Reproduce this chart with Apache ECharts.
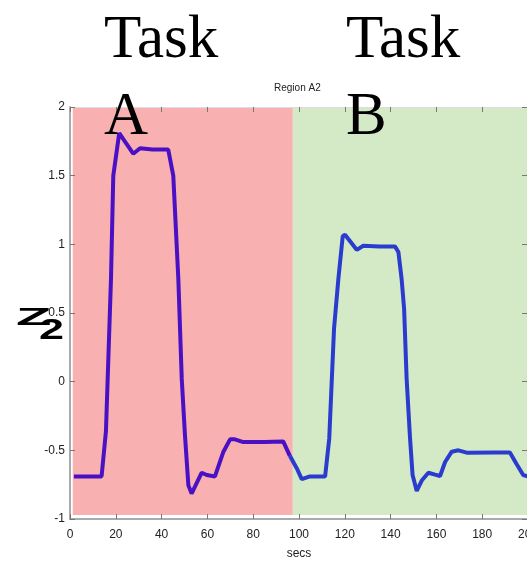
<!DOCTYPE html>
<html>
<head>
<meta charset="utf-8">
<script src="https://cdn.jsdelivr.net/npm/echarts@6/dist/echarts.min.js"></script>
<style>
  html, body { margin: 0; padding: 0; background: #fff; }
  #chart { width: 527px; height: 566px; }
</style>
</head>
<body>
<div id="chart"></div>
<script>
// time (secs) and Z2 response, task A part then task B part
let secsA = [1.7, 13.8, 15.7, 17.9, 18.9, 21.5, 23.5, 27.6, 30.6, 36, 42.9, 45.1, 47.3, 48.8, 50.2, 51.7, 53.1, 57.5, 59.7, 63.3, 67, 69.9, 72, 75.7, 85, 93.1, 96]
let z2A = [-0.69, -0.69, -0.36, 0.75, 1.5, 1.81, 1.76, 1.66, 1.70, 1.69, 1.69, 1.50, 0.75, 0.02, -0.39, -0.755, -0.815, -0.663, -0.68, -0.69, -0.51, -0.42, -0.42, -0.44, -0.44, -0.435, -0.54]
let secsB = [96, 99, 101.2, 104.8, 111.4, 113.2, 115.3, 117.2, 119.1, 120.1, 125.2, 128.1, 135, 141.9, 143.4, 144.8, 145.9, 147, 148.5, 149.6, 151.4, 153.6, 156.5, 159.4, 161.6, 163.8, 166.7, 169.6, 173.2, 185, 192.1, 195, 197.9, 200]
let z2B = [-0.54, -0.63, -0.71, -0.69, -0.69, -0.415, 0.386, 0.75, 1.06, 1.07, 0.96, 0.99, 0.985, 0.985, 0.944, 0.75, 0.53, 0.02, -0.415, -0.68, -0.796, -0.72, -0.663, -0.677, -0.687, -0.585, -0.51, -0.5, -0.517, -0.515, -0.515, -0.6, -0.68, -0.69]
// shaded task regions [x0, x1]
let taskA = [1.2, 97.3]
let taskB = [97.3, 200]
let shadeBottom = -0.97

let tickFont = '"Liberation Sans", Arial, sans-serif'
let bigFont = '61px "Liberation Serif", "Times New Roman", serif'

let chart = echarts.init(document.getElementById('chart'))
let options = {
    animation: false,
    title: {
        text: 'Region A2',
        left: 274, top: 83,
        padding: 0,
        textStyle: { fontFamily: tickFont, fontSize: 10, fontWeight: 'normal', color: '#222' }
    },
    grid: { left: 70, top: 107, width: 458, height: 412, outerBoundsMode: 'none' },
    xAxis: [
        {
            type: 'value', min: 0, max: 200, interval: 20, z: 5,
            name: 'secs', nameLocation: 'middle', nameGap: 29,
            nameTextStyle: { fontFamily: tickFont, fontSize: 12, color: '#222' },
            splitLine: { show: false },
            axisLine: { onZero: false, lineStyle: { color: '#aaa', width: 2 } },
            axisTick: { inside: true, length: 5, lineStyle: { color: '#777' } },
            axisLabel: { fontFamily: tickFont, fontSize: 12, color: '#222', margin: 10 }
        },
        {
            type: 'value', min: 0, max: 200, interval: 20, position: 'top', z: 5,
            splitLine: { show: false },
            axisLine: { onZero: false, lineStyle: { color: '#ddd' } },
            axisTick: { inside: true, length: 5, lineStyle: { color: '#777' } },
            axisLabel: { show: false }
        }
    ],
    yAxis: [
        {
            type: 'value', min: -1, max: 2, interval: 0.5, z: 5,
            splitLine: { show: false },
            axisLine: { show: true, onZero: false, lineStyle: { color: '#aaa', width: 2 } },
            axisTick: { show: true, inside: true, length: 5, lineStyle: { color: '#777' } },
            axisLabel: { fontFamily: tickFont, fontSize: 12, color: '#222', margin: 5 }
        },
        {
            type: 'value', min: -1, max: 2, interval: 0.5, position: 'right', z: 5,
            splitLine: { show: false },
            axisLine: { show: true, onZero: false, lineStyle: { color: '#ccc' } },
            axisTick: { show: true, inside: true, length: 6, lineStyle: { color: '#777' } },
            axisLabel: { show: false }
        }
    ],
    series: [
        {
            // background shading only
            type: 'line',
            data: [],
            z: 1,
            markArea: {
                silent: true,
                data: [
                    [{ coord: [taskA[0], shadeBottom], itemStyle: { color: '#f9b0b0' } }, { coord: [taskA[1], 2] }],
                    [{ coord: [taskB[0], shadeBottom], itemStyle: { color: '#d4eac7' } }, { coord: [taskB[1], 2] }]
                ]
            }
        },
        {
            type: 'line',
            data: secsA.map((s, i) => [s, z2A[i]]),
            showSymbol: false,
            color: '#4a10c4',
            lineStyle: { width: 4, color: '#4a10c4' },
            z: 6
        },
        {
            type: 'line',
            data: secsB.map((s, i) => [s, z2B[i]]),
            showSymbol: false,
            color: '#2a3cce',
            lineStyle: { width: 4, color: '#2a3cce' },
            z: 6
        }
    ],
    graphic: [
        { type: 'text', z: 100, left: 104, top: 10, style: { text: 'Task', font: bigFont, fill: '#000' } },
        { type: 'text', z: 100, left: 104, top: 87, style: { text: 'A', font: bigFont, fill: '#000' } },
        { type: 'text', z: 100, left: 346, top: 10, style: { text: 'Task', font: bigFont, fill: '#000' } },
        { type: 'text', z: 100, left: 346, top: 87, style: { text: 'B', font: bigFont, fill: '#000' } },
        { type: 'text', z: 100, x: 16, y: 306, scaleX: 2.15, scaleY: 0.9, style: { text: 'Z', font: 'bold 27px "Liberation Sans", Arial, sans-serif', fill: '#000' } },
        { type: 'text', z: 100, x: 39, y: 316, scaleX: 1.5, scaleY: 1, style: { text: '2', font: 'bold 30px "Liberation Sans", Arial, sans-serif', fill: '#000' } }
    ]
}
chart.setOption(options)
window.addEventListener('resize', () => {
    chart?.resize()
})
</script>
</body>
</html>
